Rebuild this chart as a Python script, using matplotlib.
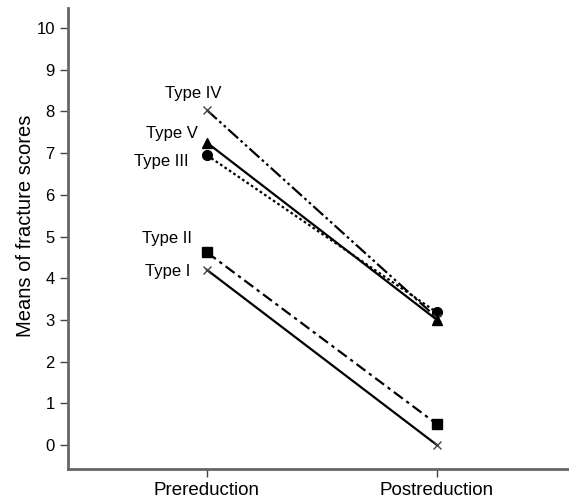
import matplotlib.pyplot as plt

plt.rcParams['font.family'] = ['Liberation Sans', 'DejaVu Sans']

phases = ["Prereduction", "Postreduction"]
types = ["Type I", "Type II", "Type III", "Type IV", "Type V"]
type_i = [4.2, 0.0]
type_ii = [4.62, 0.5]
type_iii = [6.95, 3.18]
type_iv = [8.03, 3.05]
type_v = [7.25, 3.0]
label_y = [4.15, 4.96, 6.79, 8.42, 7.48]
label_x = [-0.07, -0.065, -0.078, 0.065, -0.04]

series = [type_i, type_ii, type_iii, type_iv, type_v]
styles = [
    dict(ls="-", marker="x", ms=6, mew=1.0, color="black", mec="#444444"),
    dict(ls=(0, (5, 2, 1.5, 2)), marker="s", ms=7, color="black"),
    dict(ls=(0, (1.2, 1.2)), marker="o", ms=7, color="black"),
    dict(ls=(0, (6, 1.5, 1.2, 1.5, 1.2, 1.5)), marker="x", ms=6, mew=1.0,
         color="black", mec="#444444"),
    dict(ls="-", marker="^", ms=7, color="black"),
]

fig = plt.figure(figsize=(5.69, 4.99), dpi=100)
ax = fig.add_axes([0.1195, 0.0601, 0.8805, 0.9239])

x = list(range(len(phases)))
for vals, st in zip(series, styles):
    ax.plot(x, vals, lw=1.6, **st)

for name, lx, ly in zip(types, label_x, label_y):
    ax.text(lx, ly, name, ha="right", va="center", fontsize=12)

ax.set_xlim(-0.604, 1.574)
ax.set_ylim(-0.575, 10.48)
ax.set_yticks(range(0, 11))
ax.set_xticks(x)
ax.set_xticklabels(phases, fontsize=13.5)
ax.tick_params(axis="y", labelsize=12, length=6, width=1, color="#444444")
ax.tick_params(axis="x", length=6, width=1, color="#444444")
ax.set_ylabel("Means of fracture scores", fontsize=14.5, va="center")
ax.yaxis.set_label_coords(-0.084, 0.527)

for s in ["top", "right"]:
    ax.spines[s].set_visible(False)
for s in ["left", "bottom"]:
    ax.spines[s].set_linewidth(2)
    ax.spines[s].set_color("#666666")

fig.savefig("out.png", dpi=100)
